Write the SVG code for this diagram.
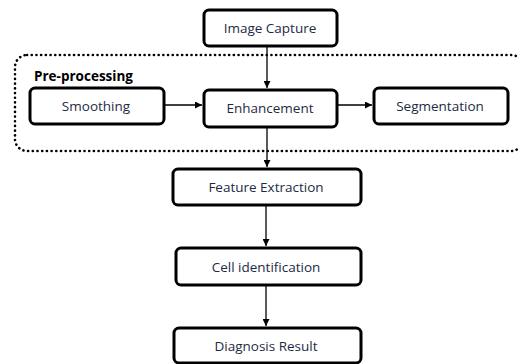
<svg xmlns="http://www.w3.org/2000/svg" width="518" height="364" viewBox="0 0 518 364">
<defs>
<style>
.box{fill:#fff;stroke:#000;stroke-width:3}
.lbl{font-family:"Open Sans","Liberation Sans",sans-serif;font-size:13.5px;fill:#1e2a44;text-anchor:middle;dominant-baseline:central}
.con{stroke:#000;stroke-width:1.3;fill:none;marker-end:url(#ah)}
</style>
<marker id="ah" viewBox="0 0 10 10" refX="10" refY="5" markerWidth="7" markerHeight="7" markerUnits="userSpaceOnUse" orient="auto">
<path d="M0,0 L10,5 L0,10 z" fill="#000"/>
</marker>
</defs>
<rect width="518" height="364" fill="#fff"/>
<g id="preprocessing">
<rect x="15" y="55" width="508" height="96" rx="12" fill="none" stroke="#000" stroke-width="2.6" stroke-dasharray="0.1 4.6" stroke-linecap="round"/>
<text x="34" y="81" font-family="'Open Sans','Liberation Sans',sans-serif" font-size="13.5" font-weight="bold" fill="#000">Pre-processing</text>
</g>
<g id="connectors">
<line class="con" x1="267" y1="47" x2="267" y2="88"/>
<line class="con" x1="165" y1="105" x2="202" y2="105"/>
<line class="con" x1="338" y1="105" x2="372" y2="105"/>
<line class="con" x1="267" y1="128" x2="267" y2="167"/>
<line class="con" x1="266" y1="206" x2="266" y2="246"/>
<line class="con" x1="266" y1="286" x2="266" y2="326"/>
</g>
<g id="image-capture"><rect class="box" x="204" y="10" width="133" height="36" rx="5"/><text class="lbl" x="270" y="28">Image Capture</text></g>
<g id="smoothing"><rect class="box" x="30" y="88" width="134" height="36" rx="5"/><text class="lbl" x="96" y="106">Smoothing</text></g>
<g id="enhancement"><rect class="box" x="204" y="90" width="133" height="37" rx="5"/><text class="lbl" x="270" y="108">Enhancement</text></g>
<g id="segmentation"><rect class="box" x="374" y="88" width="134" height="36" rx="5"/><text class="lbl" x="440" y="106">Segmentation</text></g>
<g id="feature-extraction"><rect class="box" x="173" y="169" width="188" height="36" rx="5"/><text class="lbl" x="266" y="187">Feature Extraction</text></g>
<g id="cell-identification"><rect class="box" x="176" y="248" width="185" height="37" rx="5"/><text class="lbl" x="266" y="267">Cell identification</text></g>
<g id="diagnosis-result"><rect class="box" x="174" y="328" width="187" height="35" rx="5"/><text class="lbl" x="266" y="346">Diagnosis Result</text></g>
</svg>
